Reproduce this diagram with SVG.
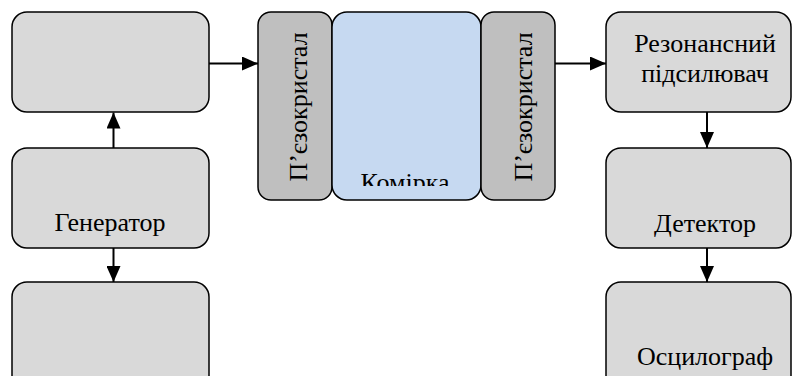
<svg xmlns="http://www.w3.org/2000/svg" width="792" height="376" viewBox="0 0 792 376">
<defs>
<style>
.box{fill:#d9d9d9;stroke:#000;stroke-width:1.5}
.pz{fill:#bfbfbf;stroke:#000;stroke-width:1.5}
.cell{fill:#c6d9f1;stroke:#000;stroke-width:1.5}
.t{font-family:'Liberation Serif',serif;font-size:26px;fill:#000;text-anchor:middle}
.c{stroke:#000;stroke-width:2;fill:none;marker-end:url(#ah)}
</style>
<marker id="ah" viewBox="0 0 16 14" refX="16" refY="7" markerWidth="16" markerHeight="14" markerUnits="userSpaceOnUse" orient="auto">
<path d="M0,0 L16,7 L0,14 Z" fill="#000"/>
</marker>
<clipPath id="cellclip"><rect x="332" y="12" width="149" height="174"/></clipPath>
</defs>
<g id="connectors">
<line class="c" x1="209" y1="63.5" x2="258" y2="63.5"/>
<line class="c" x1="113.5" y1="148" x2="113.5" y2="112.5"/>
<line class="c" x1="113.5" y1="248" x2="113.5" y2="282"/>
<line class="c" x1="555" y1="63.5" x2="606" y2="63.5"/>
<line class="c" x1="707" y1="112" x2="707" y2="148"/>
<line class="c" x1="707" y1="248" x2="707" y2="282"/>
</g>
<g id="modulator"><rect class="box" x="12" y="12" width="197" height="100" rx="15"/></g>
<g id="generator"><rect class="box" x="12" y="148" width="197" height="100" rx="15"/><text class="t" font-family="Liberation Serif" x="110" y="231">Генератор</text></g>
<g id="bottom-left"><rect class="box" x="12" y="282" width="197" height="110" rx="15"/></g>
<g id="piezo-left"><rect class="pz" x="258" y="12" width="74" height="188" rx="13"/><text class="t" font-family="Liberation Serif" transform="translate(306.5,107) rotate(-90)" x="0" y="0">П’єзокристал</text></g>
<g id="cell"><rect class="cell" x="332" y="12" width="149" height="188" rx="15"/><text class="t" font-family="Liberation Serif" x="405" y="190.5" clip-path="url(#cellclip)">Комірка</text></g>
<g id="piezo-right"><rect class="pz" x="481" y="12" width="74" height="188" rx="13"/><text class="t" font-family="Liberation Serif" transform="translate(531.5,107) rotate(-90)" x="0" y="0">П’єзокристал</text></g>
<g id="amplifier"><rect class="box" x="606" y="12" width="185" height="100" rx="15"/><text class="t" font-family="Liberation Serif" x="705" y="52">Резонансний</text><text class="t" font-family="Liberation Serif" x="705" y="82">підсилювач</text></g>
<g id="detector"><rect class="box" x="606" y="148" width="185" height="100" rx="15"/><text class="t" font-family="Liberation Serif" x="705" y="231.5">Детектор</text></g>
<g id="oscillograph"><rect class="box" x="606" y="282" width="185" height="110" rx="15"/><text class="t" font-family="Liberation Serif" x="705" y="365">Осцилограф</text></g>
</svg>
